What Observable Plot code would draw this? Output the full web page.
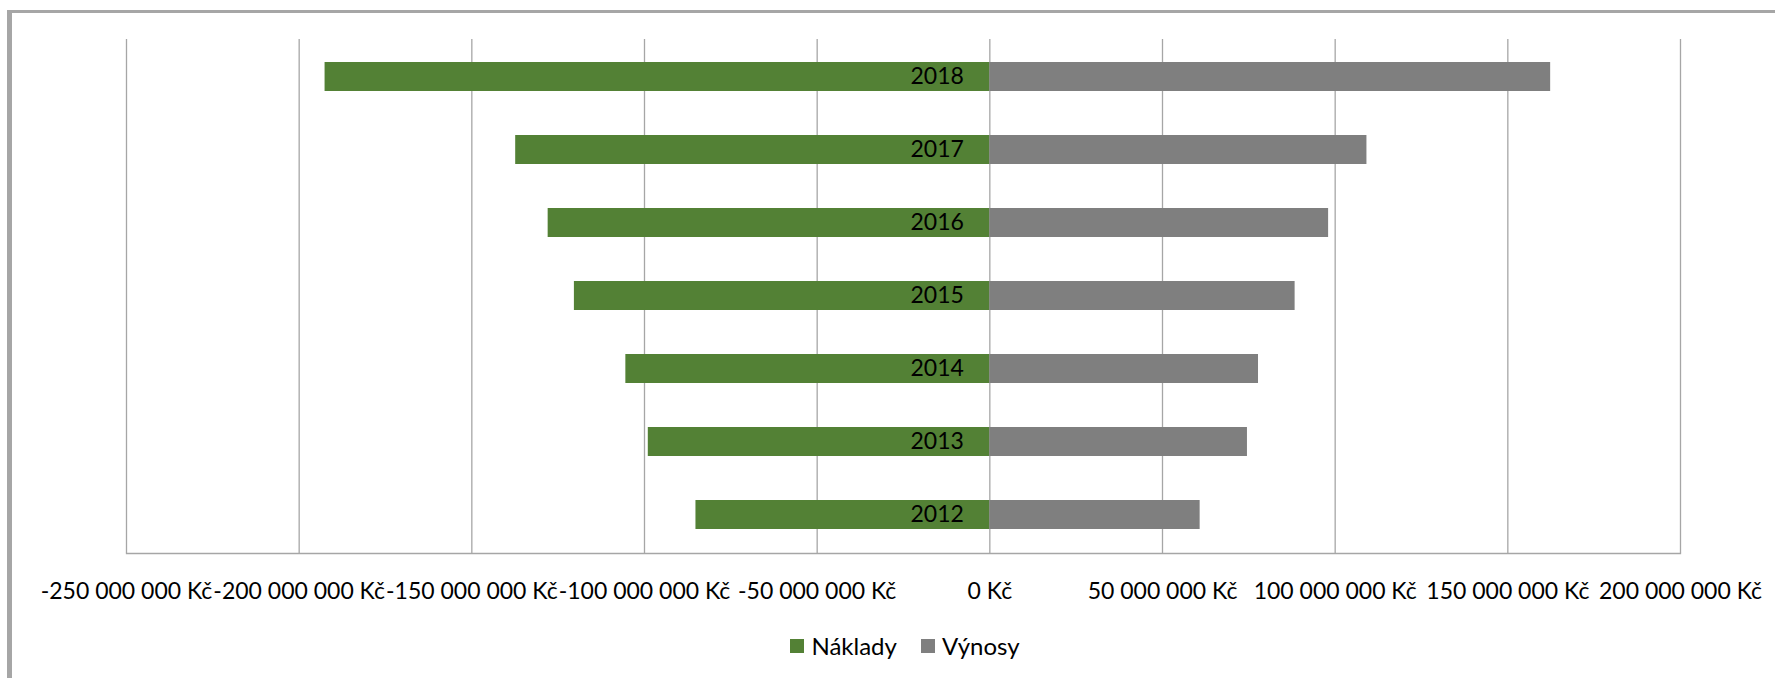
<!DOCTYPE html>
<html>
<head>
<meta charset="utf-8">
<script src="https://cdn.jsdelivr.net/npm/d3@7"></script>
<script src="https://cdn.jsdelivr.net/npm/@observablehq/plot@0.6"></script>
<style>
  html, body { margin: 0; padding: 0; background: #fff; overflow: hidden; }
  #wrap { position: relative; width: 1775px; height: 678px; overflow: hidden; font-family: Lato, "Open Sans", sans-serif; }
  #chart { position: absolute; left: 0; top: 0; }
  #border { position: absolute; left: 7px; top: 10px; width: 1800px; height: 700px;
            border-top: 3px solid #a6a6a6; border-left: 5px solid #a6a6a6; box-sizing: border-box; pointer-events: none; }
  #legend { position: absolute; top: 631px; left: 0; width: 1810px; display: flex; justify-content: center;
            font-size: 24px; color: #000; align-items: center; }
  .item { display: flex; align-items: center; margin: 0 12px; }
  .sw { width: 14px; height: 14px; margin-right: 7px; display: inline-block; }
</style>
</head>
<body>
<div id="wrap">
  <div id="chart"></div>
  <div id="border"></div>
  <div id="legend"></div>
</div>
<script>
const years = ["2018", "2017", "2016", "2015", "2014", "2013", "2012"];
const naklady = [-192.5e6, -137.3e6, -127.9e6, -120.3e6, -105.4e6, -98.9e6, -85.1e6];
const vynosy = [162.4e6, 109.2e6, 98.1e6, 88.4e6, 77.8e6, 74.6e6, 60.9e6];
const seriesNames = ["Náklady", "Výnosy"];
const seriesColors = ["#538135", "#7f7f7f"];
const xTicks = [-250e6, -200e6, -150e6, -100e6, -50e6, 0, 50e6, 100e6, 150e6, 200e6];

const rows = [];
years.forEach((y, i) => {
  rows.push({year: y, series: seriesNames[0], value: naklady[i]});
  rows.push({year: y, series: seriesNames[1], value: vynosy[i]});
});

function fmt(d) {
  const s = Math.abs(d).toString().replace(/\B(?=(\d{3})+(?!\d))/g, " ");
  return (d < 0 ? "-" : "") + s + " Kč";
}

const chart = Plot.plot({
  width: 1775,
  height: 678,
  marginLeft: 126,
  marginRight: 95,
  marginTop: 39,
  marginBottom: 125,
  style: {fontFamily: "Lato, 'Open Sans', sans-serif", fontSize: "23px", color: "#000", background: "transparent"},
  x: {domain: [-250e6, 200e6], ticks: xTicks, tickFormat: fmt, tickSize: 0, tickPadding: 29, label: null},
  y: {domain: years, paddingInner: 0.6, paddingOuter: 0.3, axis: null},
  color: {domain: seriesNames, range: seriesColors},
  marks: [
    Plot.gridX(xTicks, {stroke: "#a6a6a6", strokeOpacity: 1, strokeWidth: 1.3}),
    Plot.frame({anchor: "bottom", stroke: "#a6a6a6", strokeWidth: 1.3}),
    Plot.barX(rows, {y: "year", x1: 0, x2: "value", fill: "series"}),
    Plot.text(years, {y: d => d, x: 0, text: d => d, textAnchor: "end", dx: -26, fill: "#000", fontSize: 23})
  ]
});
document.getElementById("chart").appendChild(chart);

const legend = document.getElementById("legend");
seriesNames.forEach((n, i) => {
  const it = document.createElement("div");
  it.className = "item";
  const sw = document.createElement("span");
  sw.className = "sw";
  sw.style.background = seriesColors[i];
  const t = document.createElement("span");
  t.textContent = n;
  it.appendChild(sw); it.appendChild(t);
  legend.appendChild(it);
});
</script>
</body>
</html>
